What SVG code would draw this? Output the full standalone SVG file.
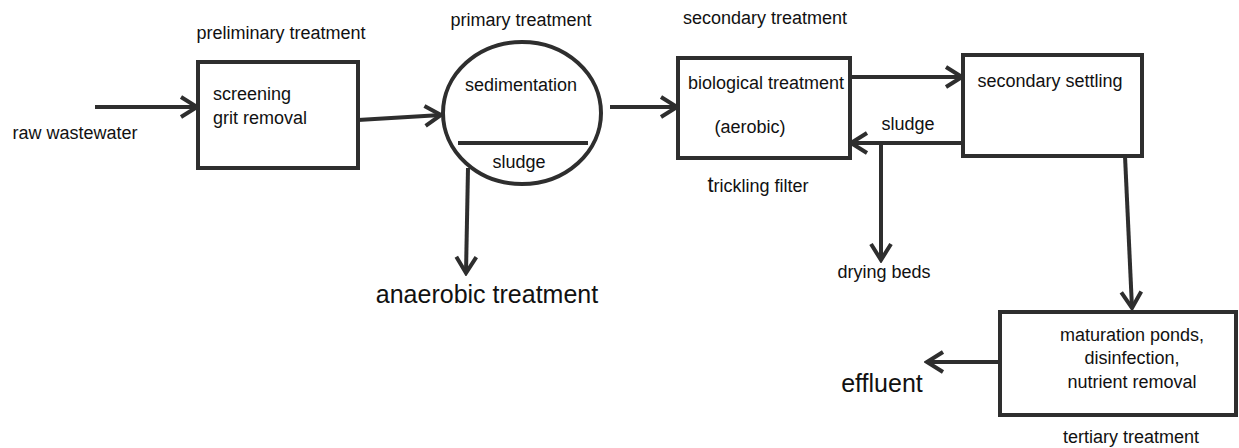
<svg xmlns="http://www.w3.org/2000/svg" width="1239" height="448" viewBox="0 0 1239 448">
<style>
.box{fill:#fff;stroke:#2e2e2e;stroke-width:4}
.ln{fill:none;stroke:#2e2e2e;stroke-width:4;marker-end:url(#ah)}
.pl{fill:none;stroke:#2e2e2e;stroke-width:4}
text{font-family:"Liberation Sans",Arial,sans-serif;font-size:18px;fill:#111}
.big{font-size:25px}
</style>
<defs>
<marker id="ah" viewBox="0 0 24 24" refX="21" refY="12" markerWidth="24" markerHeight="24" markerUnits="userSpaceOnUse" orient="auto">
<path d="M5,2 L21,12 L5,22" fill="none" stroke="#2e2e2e" stroke-width="4"/>
</marker>
</defs>
<rect width="1239" height="448" fill="#fff"/>
<g id="connectors">
<line class="ln" x1="95" y1="107" x2="197" y2="107"/>
<line class="ln" x1="358" y1="120" x2="441" y2="115"/>
<line class="ln" x1="468" y1="168" x2="466" y2="273"/>
<line class="ln" x1="610" y1="107" x2="677" y2="107"/>
<line class="ln" x1="850" y1="77" x2="962" y2="77"/>
<line class="ln" x1="963" y1="143" x2="851" y2="143"/>
<line class="ln" x1="881" y1="143" x2="881" y2="260"/>
<line class="ln" x1="1125" y1="156" x2="1132" y2="308"/>
<line class="ln" x1="1000" y1="362" x2="927" y2="362"/>
<text x="908" y="130" text-anchor="middle">sludge</text>
</g>
<g id="raw">
<text x="75" y="139" text-anchor="middle">raw wastewater</text>
</g>
<g id="preliminary">
<text x="281" y="39" text-anchor="middle">preliminary treatment</text>
<rect class="box" x="198" y="62" width="160" height="106"/>
<text x="213" y="100">screening</text>
<text x="213" y="124">grit removal</text>
</g>
<g id="primary">
<text x="521" y="26" text-anchor="middle">primary treatment</text>
<ellipse class="box" cx="522" cy="113" rx="79" ry="71"/>
<line class="pl" x1="458" y1="143" x2="588" y2="143"/>
<text x="521" y="91" text-anchor="middle">sedimentation</text>
<text x="519" y="168" text-anchor="middle">sludge</text>
</g>
<g id="anaerobic">
<text class="big" x="487" y="303" text-anchor="middle">anaerobic treatment</text>
</g>
<g id="biological">
<text x="765" y="24" text-anchor="middle">secondary treatment</text>
<rect class="box" x="678" y="58" width="172" height="100"/>
<text x="766" y="89" text-anchor="middle">biological treatment</text>
<text x="750" y="133" text-anchor="middle">(aerobic)</text>
<text x="758" y="192" text-anchor="middle"><tspan font-size="22">t</tspan>rickling filter</text>
</g>
<g id="settling">
<rect class="box" x="963" y="55" width="179" height="101"/>
<text x="1050" y="87" text-anchor="middle">secondary settling</text>
</g>
<g id="drying">
<text x="884" y="278" text-anchor="middle">drying beds</text>
</g>
<g id="tertiary">
<rect class="box" x="1000" y="312" width="236" height="103"/>
<text x="1132" y="341" text-anchor="middle">maturation ponds,</text>
<text x="1132" y="364" text-anchor="middle">disinfection,</text>
<text x="1132" y="388" text-anchor="middle">nutrient removal</text>
<text x="1131" y="443" text-anchor="middle">tertiary treatment</text>
</g>
<g id="effluent">
<text class="big" x="882" y="392" text-anchor="middle">effluent</text>
</g>
</svg>
